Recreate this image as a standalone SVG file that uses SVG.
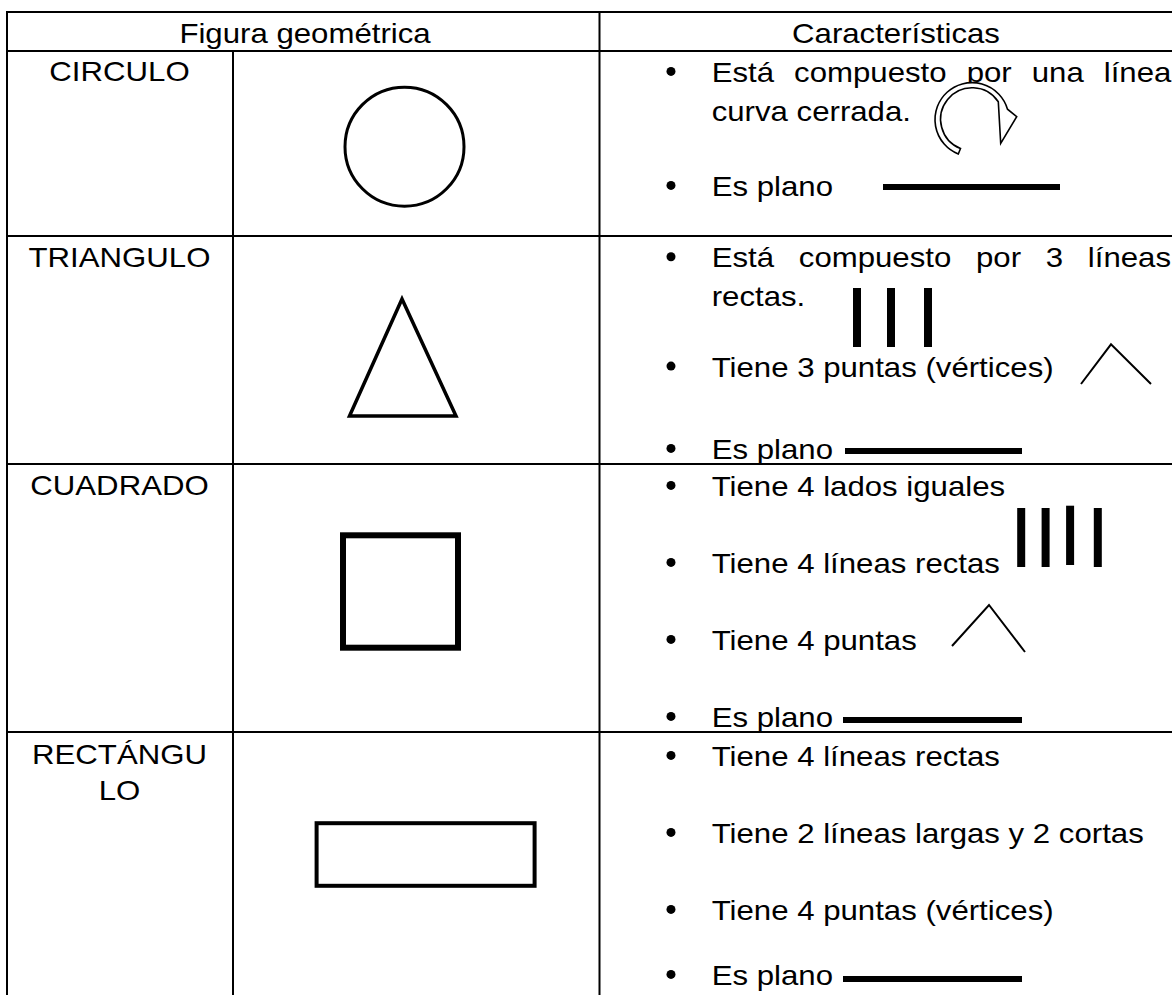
<svg xmlns="http://www.w3.org/2000/svg" width="1172" height="995" viewBox="0 0 1172 995">
<style>
.t{font-family:"Liberation Sans",Arial,sans-serif;font-size:27px;fill:#000}
.c{text-anchor:middle}
.grid line{stroke:#000;stroke-width:2}
.bar{fill:#000}
.peak{fill:none;stroke:#000;stroke-width:2}
.bul{fill:#000}
</style>
<rect x="0" y="0" width="1172" height="995" fill="#fff"/>
<g id="grid" class="grid">
<line x1="6" y1="12" x2="1172" y2="12"/>
<line x1="6" y1="51" x2="1172" y2="51"/>
<line x1="6" y1="236" x2="1172" y2="236"/>
<line x1="6" y1="464" x2="1172" y2="464"/>
<line x1="6" y1="732" x2="1172" y2="732"/>
<line x1="7" y1="11" x2="7" y2="995"/>
<line x1="233" y1="51" x2="233" y2="995"/>
<line x1="599.5" y1="11" x2="599.5" y2="995"/>
</g>
<g id="header">
<text class="t c" transform="translate(305,43) scale(1.155,1)">Figura geométrica</text>
<text class="t c" transform="translate(896,43) scale(1.155,1)">Características</text>
</g>
<g id="row-circulo">
<text class="t c" transform="translate(119.5,81) scale(1.155,1)">CIRCULO</text>
<circle cx="404.5" cy="146.7" r="59.5" fill="none" stroke="#000" stroke-width="3"/>
<circle class="bul" cx="671" cy="71.4" r="4.5"/>
<text class="t" word-spacing="9.85" transform="translate(711.7,82) scale(1.155,1)">Está compuesto por una línea</text>
<text class="t" transform="translate(711.7,121) scale(1.155,1)">curva cerrada.</text>
<path d="M958.3,154 A37,37 0 1 1 1007.5,109.2 L1016.7,116.7 L1000.7,143.3 L998.3,101.7 A31.5,31.5 0 1 0 960.5,148.5 Z" fill="#fff" stroke="#000" stroke-width="1.6" stroke-linejoin="miter"/>
<circle class="bul" cx="671" cy="185.4" r="4.5"/>
<text class="t" transform="translate(711.7,196) scale(1.155,1)">Es plano</text>
<rect class="bar" x="883" y="184" width="177" height="6"/>
</g>
<g id="row-triangulo">
<text class="t c" transform="translate(119.5,266.5) scale(1.155,1)">TRIANGULO</text>
<polygon points="402,299 349.5,416 456,416" fill="none" stroke="#000" stroke-width="3.5"/>
<circle class="bul" cx="671" cy="256.7" r="4.5"/>
<text class="t" word-spacing="13.9" transform="translate(711.7,267.3) scale(1.155,1)">Está compuesto por 3 líneas</text>
<text class="t" transform="translate(711.7,306) scale(1.155,1)">rectas.</text>
<rect class="bar" x="853" y="288" width="8" height="59"/>
<rect class="bar" x="887" y="288" width="8" height="59"/>
<rect class="bar" x="924" y="288" width="8" height="59"/>
<circle class="bul" cx="671" cy="366.1" r="4.5"/>
<text class="t" transform="translate(711.7,376.7) scale(1.155,1)">Tiene 3 puntas (vértices)</text>
<polyline class="peak" points="1081,384 1111,344.3 1151,384"/>
<circle class="bul" cx="671" cy="448.4" r="4.5"/>
<text class="t" transform="translate(711.7,459) scale(1.155,1)">Es plano</text>
<rect class="bar" x="845" y="448" width="177" height="6"/>
</g>
<g id="row-cuadrado">
<text class="t c" transform="translate(119.5,495) scale(1.155,1)">CUADRADO</text>
<rect x="343" y="535.3" width="115" height="112.4" fill="none" stroke="#000" stroke-width="6"/>
<circle class="bul" cx="671" cy="485.4" r="4.5"/>
<text class="t" transform="translate(711.7,496) scale(1.155,1)">Tiene 4 lados iguales</text>
<circle class="bul" cx="671" cy="562.4" r="4.5"/>
<text class="t" transform="translate(711.7,573) scale(1.155,1)">Tiene 4 líneas rectas</text>
<rect class="bar" x="1017.2" y="508" width="8" height="59"/>
<rect class="bar" x="1041.6" y="508" width="8" height="59"/>
<rect class="bar" x="1066.1" y="505.7" width="8" height="59.3"/>
<rect class="bar" x="1093.8" y="508" width="8" height="59"/>
<circle class="bul" cx="671" cy="639.4" r="4.5"/>
<text class="t" transform="translate(711.7,650) scale(1.155,1)">Tiene 4 puntas</text>
<polyline class="peak" points="952,646 989,605 1025,652"/>
<circle class="bul" cx="671" cy="716.4" r="4.5"/>
<text class="t" transform="translate(711.7,727) scale(1.155,1)">Es plano</text>
<rect class="bar" x="843" y="717" width="179" height="6"/>
</g>
<g id="row-rectangulo">
<text class="t c" transform="translate(119.5,763.5) scale(1.155,1)">RECTÁNGU</text>
<text class="t c" transform="translate(119.5,799.5) scale(1.155,1)">LO</text>
<rect x="316.6" y="823.2" width="218" height="62.6" fill="none" stroke="#000" stroke-width="4"/>
<circle class="bul" cx="671" cy="755.4" r="4.5"/>
<text class="t" transform="translate(711.7,766) scale(1.155,1)">Tiene 4 líneas rectas</text>
<circle class="bul" cx="671" cy="832.4" r="4.5"/>
<text class="t" transform="translate(711.7,843) scale(1.155,1)">Tiene 2 líneas largas y 2 cortas</text>
<circle class="bul" cx="671" cy="909.4" r="4.5"/>
<text class="t" transform="translate(711.7,920) scale(1.155,1)">Tiene 4 puntas (vértices)</text>
<circle class="bul" cx="671" cy="974.4" r="4.5"/>
<text class="t" transform="translate(711.7,985) scale(1.155,1)">Es plano</text>
<rect class="bar" x="843" y="976" width="179" height="6"/>
</g>
</svg>
